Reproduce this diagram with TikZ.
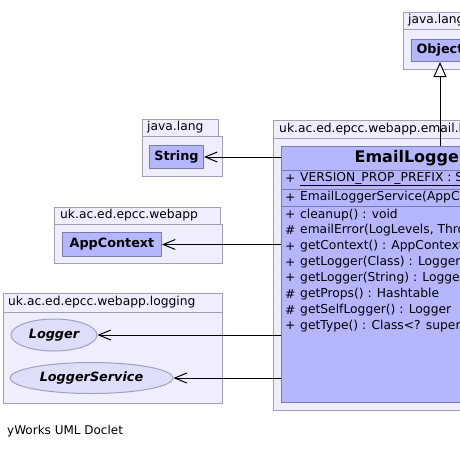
\documentclass[tikz,border=0pt]{standalone}
\usepackage{fontspec}
\setmainfont{DejaVu Sans}[ItalicFont={DejaVu Sans Oblique},BoldFont={DejaVu Sans Bold},BoldItalicFont={DejaVu Sans Bold Oblique}]
\usetikzlibrary{arrows.meta,shapes.geometric}
\definecolor{pkgfill}{RGB}{238,238,255}
\definecolor{pkgline}{RGB}{160,160,182}
\definecolor{clsfill}{RGB}{182,182,255}
\definecolor{clsline}{RGB}{122,122,178}
\definecolor{ellfill}{RGB}{222,222,248}
\definecolor{ellline}{RGB}{160,160,196}
\begin{document}
\begin{tikzpicture}[x=1pt,y=-1pt,
  pkg/.style={draw=pkgline,fill=pkgfill,line width=1pt},
  pkglabel/.style={anchor=west,inner sep=0pt,font=\fontsize{12.3}{14}\selectfont},
  cls/.style={draw=clsline,fill=clsfill,line width=1pt,inner sep=0pt,font=\bfseries\fontsize{12.8}{15}\selectfont},
  ell/.style={ellipse,draw=ellline,fill=ellfill,line width=1pt,inner sep=0pt,font=\bfseries\itshape\fontsize{12.8}{15}\selectfont},
  member/.style={anchor=west,inner sep=0pt,font=\fontsize{12.3}{14}\selectfont},
  sep/.style={draw=clsline,line width=1pt},
  dep/.style={-{Straight Barb[length=12pt,width=10pt]},line width=1pt},
  inh/.style={-{Triangle[open,length=15pt,width=13pt,fill=white]},line width=1pt}]
\useasboundingbox (0,0) rectangle (460,448);
\clip (0,0) rectangle (460,448);
\fill[white] (0,0) rectangle (460,448);
% packages
\path[pkg] (403,12) rectangle (480,29);
\path[pkg] (403,29) rectangle (480,69);
\node[pkglabel] (pkgobj) at (408,20.5) {java.lang};
\path[pkg] (142,119) rectangle (218,136);
\path[pkg] (142,136) rectangle (222,176);
\node[pkglabel] (pkgstr) at (147,127.5) {java.lang};
\path[pkg] (54,207) rectangle (220,224);
\path[pkg] (54,224) rectangle (222,263);
\node[pkglabel] (pkgweb) at (60,215.5) {uk.ac.ed.epcc.webapp};
\path[pkg] (3,293) rectangle (222,312);
\path[pkg] (3,312) rectangle (222,403);
\node[pkglabel] (pkglog) at (8,302.5) {uk.ac.ed.epcc.webapp.logging};
\path[pkg] (273,120) rectangle (620,138);
\path[pkg] (273,138) rectangle (620,410);
\node[pkglabel] (pkgmail) at (279,129) {uk.ac.ed.epcc.webapp.email.logger};
% classes
\node[cls,minimum width=57,minimum height=22,anchor=north west] (object) at (411,39) {Object};
\node[cls,minimum width=54,minimum height=23,anchor=north west] (string) at (149,145) {String};
\node[cls,minimum width=99,minimum height=24,anchor=north west] (appctx) at (62,232) {AppContext};
\node[ell,minimum width=86,minimum height=32] (logger) at (54,335) {Logger};
\node[ell,minimum width=163,minimum height=31] (logsvc) at (91.5,378) {LoggerService};
\node[cls,minimum width=326,minimum height=256,anchor=north west] (els) at (281,146) {};
\node[inner sep=0pt,font=\bfseries\fontsize{16}{18}\selectfont] (elsname) at (444,158.5) {EmailLoggerService};
\draw[sep] (els.west |- 0,170) -- (els.east |- 0,170);
\draw[sep] (els.west |- 0,189) -- (els.east |- 0,189);
\draw[sep] (els.west |- 0,206) -- (els.east |- 0,206);
\node[member] (vis1) at (285,179) {+};
\node[member] (mem1) at (300,179) {\underline{VERSION\_PROP\_PREFIX : String}};
\node[member] (vis2) at (285,197.5) {+};
\node[member] (mem2) at (300,197.5) {EmailLoggerService(AppContext)};
\node[member] (vis3) at (285,215) {+};
\node[member] (mem3) at (300,215) {cleanup() : void};
\node[member] (vis4) at (285,230.5) {\#};
\node[member] (mem4) at (300,230.5) {emailError(LogLevels, Throwable, String) : void};
\node[member] (vis5) at (285,246.5) {+};
\node[member] (mem5) at (300,246.5) {getContext() : AppContext};
\node[member] (vis6) at (285,262.5) {+};
\node[member] (mem6) at (300,262.5) {getLogger(Class) : Logger};
\node[member] (vis7) at (285,278) {+};
\node[member] (mem7) at (300,278) {getLogger(String) : Logger};
\node[member] (vis8) at (285,294) {\#};
\node[member] (mem8) at (300,294) {getProps() : Hashtable};
\node[member] (vis9) at (285,310) {\#};
\node[member] (mem9) at (300,310) {getSelfLogger() : Logger};
\node[member] (vis10) at (285,326) {+};
\node[member] (mem10) at (300,326) {getType() : Class<? super EmailLoggerService>};
% connectors
\draw[inh] (object.south |- els.north) -- (object.south);
\draw[dep] (els.west |- string.east) -- (string.east);
\draw[dep] (els.west |- appctx.east) -- (appctx.east);
\draw[dep] (els.west |- logger.east) -- (logger.east);
\draw[dep] (els.west |- logsvc.east) -- (logsvc.east);
\node[anchor=west,inner sep=0pt,font=\fontsize{12}{14}\selectfont] (credit) at (7,431) {yWorks UML Doclet};
\end{tikzpicture}
\end{document}
